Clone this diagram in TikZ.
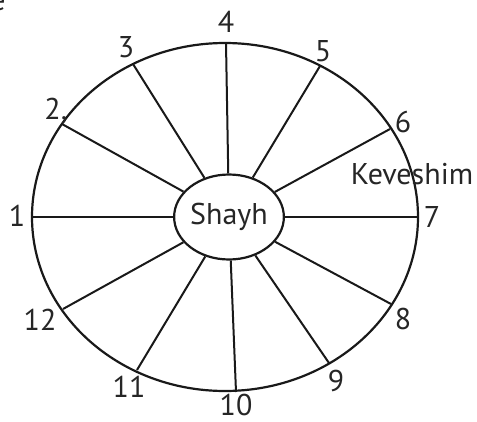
\documentclass[tikz,border=0pt]{standalone}
\usepackage{fontspec}
\setmainfont{PT Sans}
\usetikzlibrary{shapes.geometric}

\begin{document}
\begin{tikzpicture}[x=1pt, y=-1pt, font=\fontsize{30}{31}\selectfont]
\useasboundingbox (0,0) rectangle (477,421);
% rim and hub
\draw [color=black!90, line width=2.2pt] (225,217) ellipse [x radius=193, y radius=174];
\node [draw, color=black!90, line width=2.2pt, ellipse, inner sep=0pt, minimum width=102pt, minimum height=85pt, text=black!85] (shayh) at (229,217) {Shayh};
% points on the rim
\coordinate (o1) at (32,217);
\coordinate (o2) at (62,124);
\coordinate (o3) at (133,64);
\coordinate (o4) at (226,43);
\coordinate (o5) at (320,66);
\coordinate (o6) at (390,129);
\coordinate (o7) at (418,217);
\coordinate (o8) at (391,304);
\coordinate (o9) at (329,363);
\coordinate (o10) at (236,392);
\coordinate (o11) at (137,370);
\coordinate (o12) at (63,309);
\foreach \i in {1,...,12}
  \draw [color=black!90, line width=2pt] (shayh) -- (o\i);
% numbers
\node [text=black!85] (n1) at (17,216) {1};
\node [text=black!85] (n2) at (56,111) {2,};
\node [text=black!85] (n3) at (126,47) {3};
\node [text=black!85] (n4) at (226,22) {4};
\node [text=black!85] (n5) at (323,51) {5};
\node [text=black!85] (n6) at (403,122) {6};
\node [text=black!85] (n7) at (432,217) {7};
\node [text=black!85] (n8) at (403,319) {8};
\node [text=black!85] (n9) at (336,381) {9};
\node [text=black!85, inner sep=1pt] (n10) at (236,405) {10};
\node [text=black!85] (n11) at (129,387) {11};
\node [text=black!85] (n12) at (40,320) {12};
\node [text=black!85] (kev) at (412,174) {Keveshim};
\node [text=black!85] (cut) at (-2,3) {e};
\end{tikzpicture}
\end{document}
